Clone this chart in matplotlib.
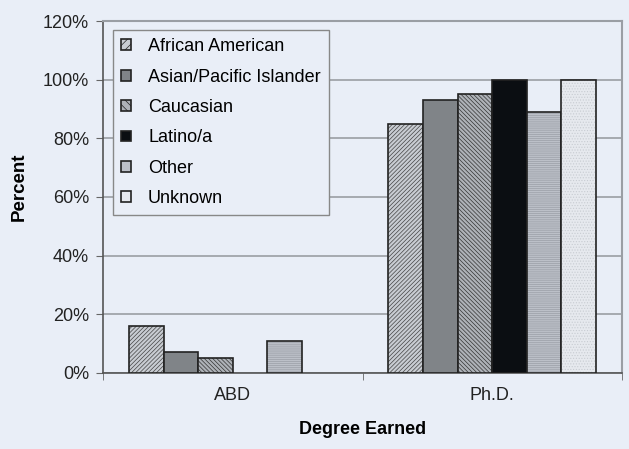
import matplotlib
matplotlib.use("Agg")
import matplotlib.pyplot as plt
from matplotlib.patches import Patch
import numpy as np

categories = ["ABD", "Ph.D."]
groups = ["African American", "Asian/Pacific Islander", "Caucasian", "Latino/a", "Other", "Unknown"]
african_american = [16, 85]
asian_pacific = [7, 93]
caucasian = [5, 95]
latino = [0, 100]
other = [11, 89]
unknown = [0, 100]
series = [african_american, asian_pacific, caucasian, latino, other, unknown]
yticks = [0, 20, 40, 60, 80, 100, 120]

faces = ["#c8ccd2", "#808488", "#aeb2b8", "#0b0e12", "#bcc0c8", "#e6e9ee"]
hatches = ["////////", None, "\\\\\\\\\\\\\\\\", None, "--------", "......"]
hatch_cols = ["#444444", None, "#333333", None, "#9a9ea6", "#c8ccd2"]

plt.rcParams['font.family'] = ['Liberation Sans', 'DejaVu Sans']
plt.rcParams['hatch.linewidth'] = 0.5
bg = "#e9eef7"
fig = plt.figure(figsize=(6.29, 4.49), dpi=100, facecolor=bg)
ax = fig.add_axes([0.1638, 0.1693, 0.8251, 0.7839])
ax.set_facecolor(bg)

x = np.arange(len(categories))
w = 0.1333
handles = []
for i, (vals, name) in enumerate(zip(series, groups)):
    pos = x + (i - 2.5) * w
    bars = ax.bar(pos, vals, w, color=faces[i], edgecolor="#222222", linewidth=1.2,
                  zorder=3)
    for b, v in zip(bars, vals):
        if hatches[i]:
            b.set_hatch(hatches[i])
            b._hatch_color = matplotlib.colors.to_rgba(hatch_cols[i])
        if v == 0:
            b.set_visible(False)
    h = Patch(facecolor=faces[i], edgecolor="#222222", linewidth=1.2,
              hatch=("////" if i == 0 else "\\\\\\\\" if i == 2 else None), label=name)
    handles.append(h)

ax.set_xlim(-0.5, 1.5)
ax.set_ylim(0, 120)
ax.set_yticks(yticks)
ax.set_yticklabels([f"{v}%" for v in yticks], fontsize=13, color="#222222")
ax.set_xticks(x)
ax.set_xticklabels(categories, fontsize=13, color="#222222")
ax.set_xticks([-0.5, 0.5, 1.5], minor=True)
ax.tick_params(axis='x', which='major', length=0, pad=10)
ax.tick_params(axis='x', which='minor', length=5, direction='out', color="#666666")
ax.tick_params(axis='y', length=5, direction='out', color="#666666", pad=5)
ax.yaxis.grid(True, color="#9a9ea4", linewidth=1.2, zorder=0)
ax.set_axisbelow(True)
for s in ["top", "right"]:
    ax.spines[s].set_color("#9a9ea4")
    ax.spines[s].set_linewidth(1.5)
for s in ["left", "bottom"]:
    ax.spines[s].set_color("#555555")
    ax.spines[s].set_linewidth(1.2)

ax.set_ylabel("Percent", fontsize=13.5, fontweight="bold")
ax.yaxis.set_label_coords(-0.1445, 0.528)
ax.set_xlabel("Degree Earned", fontsize=13, fontweight="bold", labelpad=12)

leg = ax.legend(handles=handles, loc="upper left", bbox_to_anchor=(0.019, 0.974),
                borderaxespad=0, fontsize=13,
                frameon=True, fancybox=False, edgecolor="#888888", facecolor=bg,
                handlelength=0.55, handleheight=0.55, labelspacing=0.74,
                borderpad=0.45, handletextpad=0.95, framealpha=1)
leg.get_frame().set_linewidth(1.0)

fig.savefig("out.png", dpi=100, facecolor=bg)
